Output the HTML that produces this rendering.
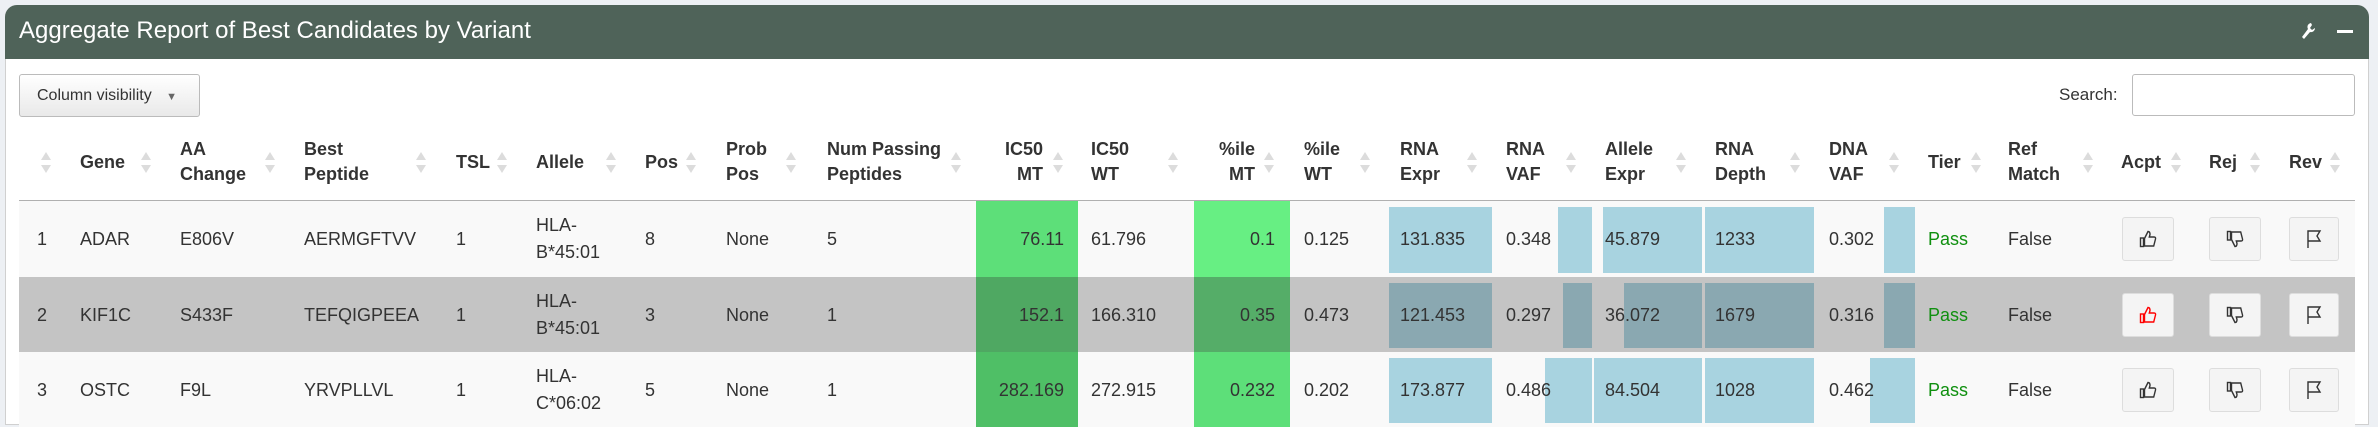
<!DOCTYPE html>
<html><head><meta charset="utf-8">
<style>
*{margin:0;padding:0;box-sizing:border-box}
body{width:2378px;height:406px;overflow:hidden;background:#edf0f4;font-family:"Liberation Sans",Arial,sans-serif;color:#333;position:relative}
.a{position:absolute;white-space:nowrap}
.t{font-size:18px;line-height:22px}
.h{font-size:18px;font-weight:bold;line-height:25px;color:#333}
.r{text-align:right}
.srt{position:absolute;width:10px;height:22px}
.srt:before{content:"";position:absolute;left:0;top:0;border-left:5px solid transparent;border-right:5px solid transparent;border-bottom:8px solid #dcdcdc}
.srt:after{content:"";position:absolute;left:0;top:13px;border-left:5px solid transparent;border-right:5px solid transparent;border-top:8px solid #dcdcdc}
.btn{position:absolute;width:52px;height:44px;background:#f4f4f4;border:1px solid #ddd;border-radius:3px;display:flex;align-items:center;justify-content:center}
.bar{position:absolute;background:#a8d3e0}
.row2 .bar{background:#8aa8b1}
</style></head><body>
<div class="a" style="left:5px;top:5px;width:2364px;height:420px;background:#fff;border:1px solid #d0d0d0;border-radius:12px 12px 0 0"></div>
<div class="a" style="left:5px;top:5px;width:2364px;height:54px;background:#4f6359;border-radius:12px 12px 0 0"></div>
<div class="a" style="left:19px;top:17px;font-size:24px;line-height:28px;color:#fff">Aggregate Report of Best Candidates by Variant</div>
<svg class="a" style="left:2300px;top:22px" width="16" height="18" viewBox="0 0 16 18"><path d="M11 1 a4 4 0 0 0 -3 6 L2 15 l2 2 6-7 a4 4 0 0 0 5-4 l-3 2-2-2 2-3z" fill="#fff"/></svg>
<div class="a" style="left:2337px;top:30px;width:16px;height:3px;background:#fff"></div>

<div class="a" style="left:19px;top:74px;width:181px;height:43px;background:linear-gradient(#fff,#e9e9e9);border:1px solid #bbb;border-radius:3px;font-size:16px;line-height:41px;padding-left:17px;color:#333">Column visibility <span style="font-size:11px;margin-left:10px;color:#666">▼</span></div>
<div class="a" style="left:2059px;top:84px;font-size:17px;line-height:22px">Search:</div>
<div class="a" style="left:2132px;top:74px;width:223px;height:42px;border:1px solid #bbb;border-radius:3px;background:#fff"></div>

<div>
<div class="srt" style="left:41px;top:152px"></div>
<div class="a h" style="left:80px;top:150px">Gene</div><div class="srt" style="left:141px;top:152px"></div>
<div class="a h" style="left:180px;top:137px">AA<br>Change</div><div class="srt" style="left:265px;top:152px"></div>
<div class="a h" style="left:304px;top:137px">Best<br>Peptide</div><div class="srt" style="left:416px;top:152px"></div>
<div class="a h" style="left:456px;top:150px">TSL</div><div class="srt" style="left:497px;top:152px"></div>
<div class="a h" style="left:536px;top:150px">Allele</div><div class="srt" style="left:606px;top:152px"></div>
<div class="a h" style="left:645px;top:150px">Pos</div><div class="srt" style="left:686px;top:152px"></div>
<div class="a h" style="left:726px;top:137px">Prob<br>Pos</div><div class="srt" style="left:786px;top:152px"></div>
<div class="a h" style="left:827px;top:137px">Num Passing<br>Peptides</div><div class="srt" style="left:951px;top:152px"></div>
<div class="a h r" style="left:980px;width:63px;top:137px">IC50<br>MT</div><div class="srt" style="left:1053px;top:152px"></div>
<div class="a h" style="left:1091px;top:137px">IC50<br>WT</div><div class="srt" style="left:1168px;top:152px"></div>
<div class="a h r" style="left:1195px;width:60px;top:137px">%ile<br>MT</div><div class="srt" style="left:1264px;top:152px"></div>
<div class="a h" style="left:1304px;top:137px">%ile<br>WT</div><div class="srt" style="left:1360px;top:152px"></div>
<div class="a h" style="left:1400px;top:137px">RNA<br>Expr</div><div class="srt" style="left:1467px;top:152px"></div>
<div class="a h" style="left:1506px;top:137px">RNA<br>VAF</div><div class="srt" style="left:1566px;top:152px"></div>
<div class="a h" style="left:1605px;top:137px">Allele<br>Expr</div><div class="srt" style="left:1676px;top:152px"></div>
<div class="a h" style="left:1715px;top:137px">RNA<br>Depth</div><div class="srt" style="left:1790px;top:152px"></div>
<div class="a h" style="left:1829px;top:137px">DNA<br>VAF</div><div class="srt" style="left:1889px;top:152px"></div>
<div class="a h" style="left:1928px;top:150px">Tier</div><div class="srt" style="left:1971px;top:152px"></div>
<div class="a h" style="left:2008px;top:137px">Ref<br>Match</div><div class="srt" style="left:2083px;top:152px"></div>
<div class="a h" style="left:2121px;top:150px">Acpt</div><div class="srt" style="left:2171px;top:152px"></div>
<div class="a h" style="left:2209px;top:150px">Rej</div><div class="srt" style="left:2250px;top:152px"></div>
<div class="a h" style="left:2289px;top:150px">Rev</div><div class="srt" style="left:2330px;top:152px"></div>
</div>
<div class="a" style="left:19px;top:200px;width:2336px;height:2px;background:#b0b0b0"></div>

<div id="rows"></div>
<script>
const genes=["ADAR","KIF1C","OSTC"];
const aaChanges=["E806V","S433F","F9L"];
const peptides=["AERMGFTVV","TEFQIGPEEA","YRVPLLVL"];
const alleles=[["HLA-","B*45:01"],["HLA-","B*45:01"],["HLA-","C*06:02"]];
const positions=["8","3","5"];
const numPassing=["5","1","1"];
const ic50MT=["76.11","152.1","282.169"];
const ic50WT=["61.796","166.310","272.915"];
const pctMT=["0.1","0.35","0.232"];
const pctWT=["0.125","0.473","0.202"];
const rnaExpr=["131.835","121.453","173.877"];
const rnaVaf=["0.348","0.297","0.486"];
const alleleExpr=["45.879","36.072","84.504"];
const rnaDepth=["1233","1679","1028"];
const dnaVaf=["0.302","0.316","0.462"];
const rnaVafFrac=[0.34,0.29,0.47];
const alleleExprFrac=[0.92,0.72,1.0];
const dnaVafFrac=[0.68,0.70,1.0];
const accepted=[false,true,false];
const rowTops=[201,277,352];
const rowBg=["#f9f9f9","#c4c4c4","#f9f9f9"];
const ic50Col=["#5ddf79","#4fa862","#4fbf66"];
const pctCol=["#67ef83","#55ad68","#5ddf79"];
const host=document.getElementById('rows');
function add(parent,name,inter,style,html,cls){const d=document.createElement('div');d.className='a '+(cls||'');d.style.cssText=style;d.innerHTML=html||'';


parent.appendChild(d);return d;}
const thumbUp=c=>`<svg width="20" height="20" viewBox="0 0 20 20" fill="none" stroke="${c}" stroke-width="1.4"><rect x="2.5" y="9" width="3" height="8.5"/><path d="M6.5 9.5 L10 2.5 q2 0 2 3 L11.3 8 h4.7 q2 0 1.5 2 l-1.8 7 h-9.2z"/></svg>`;
const thumbDown=c=>`<svg width="20" height="20" viewBox="0 0 20 20" fill="none" stroke="${c}" stroke-width="1.4"><rect x="2.5" y="2.5" width="3" height="8.5"/><path d="M6.5 10.5 L10 17.5 q2 0 2-3 L11.3 12 h4.7 q2 0 1.5-2 l-1.8-7 h-9.2z"/></svg>`;
const flag=`<svg width="20" height="20" viewBox="0 0 20 20" fill="none" stroke="#333" stroke-width="1.4"><path d="M4 19 V2 h12 l-3 5 3 5 H4"/></svg>`;
for(let i=0;i<genes.length;i++){
  const top=rowTops[i],h=i<2?rowTops[i+1]-top:75,c=top+(i<2?h/2:38);
  const row=add(host,'table-row-'+(i+1),'false',`left:19px;top:${top}px;width:2336px;height:${h}px;background:${rowBg[i]}`,'',i===1?'row2':'');
  const R=19;
  add(row,'ic50-mt-cell','false',`left:${976-R}px;top:0;width:102px;height:${h}px;background:${ic50Col[i]}`);
  add(row,'pct-mt-cell','false',`left:${1194-R}px;top:0;width:96px;height:${h}px;background:${pctCol[i]}`);
  const bt=6,bh=h-10;
  add(row,'rna-expr-bar','false',`left:${1389-R}px;top:${bt}px;width:103px;height:${bh}px`,'','bar');
  add(row,'rna-vaf-bar','false',`left:${1592-R-100*rnaVafFrac[i]}px;top:${bt}px;width:${100*rnaVafFrac[i]}px;height:${bh}px`,'','bar');
  add(row,'allele-expr-bar','false',`left:${1702-R-108*alleleExprFrac[i]}px;top:${bt}px;width:${108*alleleExprFrac[i]}px;height:${bh}px`,'','bar');
  add(row,'rna-depth-bar','false',`left:${1705-R}px;top:${bt}px;width:109px;height:${bh}px`,'','bar');
  add(row,'dna-vaf-bar','false',`left:${1915-R-45*dnaVafFrac[i]}px;top:${bt}px;width:${45*dnaVafFrac[i]}px;height:${bh}px`,'','bar');
  const ty=c-top-11;
  const txt=(name,x,val,extra)=>add(row,name,'false',`left:${x-R}px;top:${ty}px;${extra||''}`,val,'t');
  txt('row-index',37,String(i+1));
  txt('gene',80,genes[i]);
  txt('aa-change',180,aaChanges[i]);
  txt('best-peptide',304,peptides[i]);
  txt('tsl',456,'1');
  add(row,'allele','false',`left:${536-R}px;top:${c-top-27}px;font-size:18px;line-height:27px`,alleles[i].join('<br>'),'');
  txt('pos',645,positions[i]);
  txt('prob-pos',726,'None');
  txt('num-passing',827,numPassing[i]);
  txt('ic50-mt',980,ic50MT[i],'width:84px;text-align:right');
  txt('ic50-wt',1091,ic50WT[i]);
  txt('pct-mt',1195,pctMT[i],'width:80px;text-align:right');
  txt('pct-wt',1304,pctWT[i]);
  txt('rna-expr',1400,rnaExpr[i]);
  txt('rna-vaf',1506,rnaVaf[i]);
  txt('allele-expr',1605,alleleExpr[i]);
  txt('rna-depth',1715,rnaDepth[i]);
  txt('dna-vaf',1829,dnaVaf[i]);
  txt('tier',1928,'Pass','color:#109010');
  txt('ref-match',2008,'False');
  add(row,'accept-button','true',`left:${2122-R}px;top:${c-top-22}px`,thumbUp(accepted[i]?'#f00':'#333'),'btn');
  add(row,'reject-button','true',`left:${2209-R}px;top:${c-top-22}px`,thumbDown('#333'),'btn');
  add(row,'review-button','true',`left:${2289-R}px;top:${c-top-22}px;width:50px`,flag,'btn');
}
</script>
</body></html>
